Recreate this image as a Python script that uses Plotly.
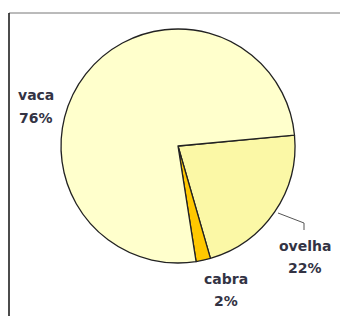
import plotly.graph_objects as go

labels = ["ovelha", "cabra", "vaca"]
values = [22, 2, 76]
colors = ["#FBF8A6", "#FFC800", "#FFFFCC"]

W, H = 340, 316
cx, cy, r = 178, 146, 117

fig = go.Figure()
fig.add_trace(go.Pie(
    labels=labels, values=values, sort=False, direction="clockwise",
    rotation=84.7, textinfo="none", hoverinfo="label+percent",
    marker=dict(colors=colors, line=dict(color="#222222", width=1.3)),
    domain=dict(x=[(cx - r) / W, (cx + r) / W], y=[(H - cy - r) / H, (H - cy + r) / H]),
    showlegend=False,
))

total = sum(values)
# (x, y of name line, y of percent line)
label_pos = {"vaca": (36, 95, 117.5), "ovelha": (305, 246, 267.5), "cabra": (225.5, 278.5, 301)}
font = dict(family="DejaVu Sans, Verdana", size=14, color="#333344")
for lab, val in zip(labels, values):
    x, y1, y2 = label_pos[lab]
    fig.add_annotation(x=x, y=y1, xref="x", yref="y", showarrow=False,
                       text=f"<b>{lab}</b>", font=font, xanchor="center", yanchor="middle")
    fig.add_annotation(x=x, y=y2, xref="x", yref="y", showarrow=False,
                       text=f"<b>{round(100 * val / total)}%</b>", font=font,
                       xanchor="center", yanchor="middle")

# leader line for ovelha
fig.add_shape(type="path", path="M 278 213 L 304 223 L 304 230",
              xref="x", yref="y", line=dict(color="#555555", width=1))

# frame
fig.add_shape(type="line", xref="x", yref="y", x0=9, y0=13, x1=340, y1=13,
              line=dict(color="#777777", width=1))
fig.add_shape(type="line", xref="x", yref="y", x0=9, y0=13, x1=9, y1=316,
              line=dict(color="#111111", width=1.5))

fig.update_xaxes(range=[0, W], visible=False, fixedrange=True)
fig.update_yaxes(range=[H, 0], visible=False, fixedrange=True)
fig.update_layout(
    width=W, height=H, margin=dict(l=0, r=0, t=0, b=0),
    paper_bgcolor="white", plot_bgcolor="white",
)
fig.write_html("out.html", post_script="document.body.style.margin='0';document.body.style.overflow='hidden';",
               config={"displayModeBar": False})
